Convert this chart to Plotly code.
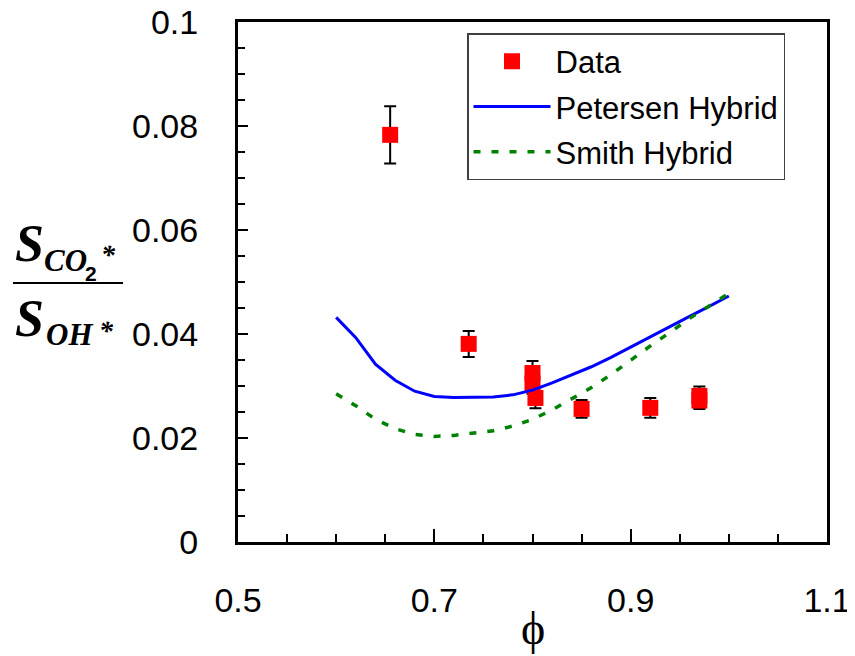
import plotly.graph_objects as go

# ---------------- data ----------------
data_phi = [0.655, 0.735, 0.800, 0.800, 0.803, 0.850, 0.920, 0.970, 0.970]
data_ratio = [0.0783, 0.0381, 0.0325, 0.0305, 0.0277, 0.0256, 0.0258, 0.0281, 0.0272]
data_err = [0.0055, 0.0025, 0.0023, 0.0020, 0.0020, 0.0017, 0.0019, 0.0018, 0.0016]

model_phi = [0.60, 0.62, 0.64, 0.66, 0.68, 0.70, 0.72, 0.74, 0.76, 0.78, 0.80,
             0.82, 0.84, 0.86, 0.88, 0.90, 0.92, 0.94, 0.96, 0.98, 1.00]
petersen = [0.0432, 0.0393, 0.0342, 0.0311, 0.0290, 0.0280, 0.0278, 0.0278, 0.0279,
            0.0283, 0.0292, 0.0306, 0.0322, 0.0337, 0.0355, 0.0375, 0.0395, 0.0414,
            0.0434, 0.0453, 0.0473]
smith = [0.0285, 0.0262, 0.0236, 0.0218, 0.0207, 0.0203, 0.0205, 0.0209, 0.0214,
         0.0223, 0.0236, 0.0254, 0.0275, 0.0297, 0.0322, 0.0350, 0.0377, 0.0403,
         0.0430, 0.0454, 0.0478]

x_ticks = [0.5, 0.7, 0.9, 1.1]
x_ticklabels = ["0.5", "0.7", "0.9", "1.1"]
y_ticks = [0, 0.02, 0.04, 0.06, 0.08, 0.1]
y_ticklabels = ["0", "0.02", "0.04", "0.06", "0.08", "0.1"]

# ---------------- layout geometry (pixels, page coordinates) ----------------
W, H = 855, 656
OFF = 8                      # default page margin around the plot div
L, R, T, B = 238, 28, 22, 114
PW, PH = W - L - R, H - T - B

def px(x):
    return (x - L) / PW

def py(y):
    return (H - B - y) / PH

SANS = "Liberation Sans, Arial, sans-serif"
SERIF = "Liberation Serif, Times New Roman, DejaVu Serif, serif"

fig = go.Figure()

fig.add_trace(go.Scatter(
    x=data_phi, y=data_ratio, mode="markers", name="Data",
    marker=dict(symbol="square", size=16, color="#ff0000", line=dict(width=0)),
    error_y=dict(type="data", array=data_err, visible=True, color="black",
                 thickness=2, width=6),
    legendgroup="a",
))
fig.add_trace(go.Scatter(
    x=model_phi, y=petersen, mode="lines", name="Petersen Hybrid",
    line=dict(color="#0000ff", width=3), legendgroup="b",
))
fig.add_trace(go.Scatter(
    x=model_phi, y=smith, mode="lines", name="Smith Hybrid",
    line=dict(color="#008000", width=3.5, dash="7px,11px"), legendgroup="c",
))

axis_common = dict(
    showline=True, linecolor="black", linewidth=3, mirror=True,
    showgrid=False, zeroline=False, ticks="inside", tickcolor="black",
    tickwidth=2, tickfont=dict(family=SANS, size=34, color="black"),
    ticklabeloverflow="allow",
)

fig.update_xaxes(
    range=[0.5, 1.1], tickmode="array", tickvals=x_ticks, ticktext=x_ticklabels,
    ticklen=13, ticklabelstandoff=26,
    minor=dict(dtick=0.05, tick0=0.5, ticks="inside", ticklen=8, tickwidth=2,
               tickcolor="black", showgrid=False),
    **axis_common,
)
fig.update_yaxes(
    range=[0, 0.1], tickmode="array", tickvals=y_ticks, ticktext=y_ticklabels,
    ticklen=10, ticklabelstandoff=30,
    minor=dict(dtick=0.005, tick0=0, ticks="inside", ticklen=7, tickwidth=2,
               tickcolor="black", showgrid=False),
    **axis_common,
)

annotations = [
    # x-axis title (phi)
    dict(text="ϕ", x=px(533), y=py(628), font=dict(family=SERIF, size=46, color="black")),
    # numerator
    dict(text="<b><i>S</i></b>", x=px(29), y=py(243), font=dict(family=SERIF, size=52, color="black")),
    dict(text="<b><i>CO</i></b>", x=px(65), y=py(260), font=dict(family=SERIF, size=31, color="black")),
    dict(text="<b>2</b>", x=px(91), y=py(273), font=dict(family=SANS, size=21, color="black")),
    dict(text="<b><i>*</i></b>", x=px(108), y=py(255), font=dict(family=SERIF, size=28, color="black")),
    # denominator
    dict(text="<b><i>S</i></b>", x=px(29), y=py(318), font=dict(family=SERIF, size=52, color="black")),
    dict(text="<b><i>OH</i></b>", x=px(70), y=py(334), font=dict(family=SERIF, size=31, color="black")),
    dict(text="<b><i>*</i></b>", x=px(106), y=py(330), font=dict(family=SERIF, size=28, color="black")),
]
for a in annotations:
    a.update(xref="paper", yref="paper", showarrow=False, xanchor="center", yanchor="middle")

fig.update_layout(
    width=W - OFF, height=H - OFF,
    margin=dict(l=L - OFF, r=R, t=T - OFF, b=B, autoexpand=False),
    paper_bgcolor="white", plot_bgcolor="white",
    font=dict(family=SANS, size=30, color="black"),
    showlegend=True,
    legend=dict(
        x=px(467), y=py(33), xanchor="left", yanchor="top",
        bgcolor="white", bordercolor="#404040", borderwidth=1.5,
        font=dict(family=SANS, size=31, color="black"),
        tracegroupgap=2, itemwidth=77,
    ),
    annotations=annotations,
    shapes=[dict(type="line", xref="paper", yref="paper",
                 x0=px(13), x1=px(123), y0=py(283), y1=py(283),
                 line=dict(color="black", width=2))],
)

fig.write_html("out.html")
